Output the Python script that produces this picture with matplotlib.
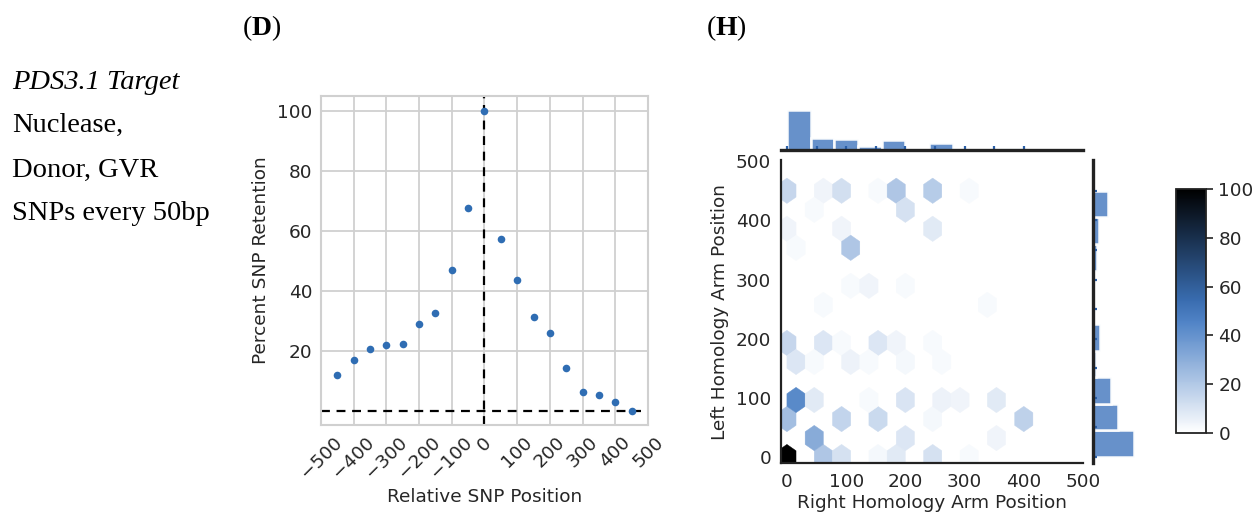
import numpy as np
import matplotlib
matplotlib.use("Agg")
import matplotlib.pyplot as plt
import colorsys
from matplotlib.colors import LinearSegmentedColormap, to_rgb

# ---------------- data ----------------
snp_pos = [-450, -400, -350, -300, -250, -200, -150, -100, -50, 0,
           50, 100, 150, 200, 250, 300, 350, 400, 450]
snp_ret = [12.2, 17.1, 20.9, 22.0, 22.5, 29.0, 32.7, 47.2, 67.7, 100.0,
           57.3, 43.8, 31.4, 26.1, 14.4, 6.6, 5.5, 3.3, 0.0]
x_ticks_d = [-500, -400, -300, -200, -100, 0, 100, 200, 300, 400, 500]
y_ticks_d = [20, 40, 60, 80, 100]

# hexbin cells: right arm position, left arm position, percent retention
hex_right = [0, 61.5, 92.3, 153.8, 184.6, 246.2, 307.7,
             46.2, 200,
             0, 92.3, 246.2,
             15.4, 107.7,
             107.7, 138.5, 200,
             61.5, 338.5,
             0, 61.5, 92.3, 153.8, 184.6, 246.2,
             15.4, 46.2, 107.7, 138.5, 200, 261.5,
             15.4, 46.2, 138.5, 200, 261.5, 292.3, 353.8,
             0, 92.3, 153.8, 246.2, 400,
             46.2, 200, 353.8,
             0, 61.5, 92.3, 153.8, 184.6, 246.2, 307.7]
hex_left = [450, 450, 450, 450, 450, 450, 450,
            417.9, 417.9,
            385.7, 385.7, 385.7,
            353.6, 353.6,
            289.3, 289.3, 289.3,
            257.1, 257.1,
            192.9, 192.9, 192.9, 192.9, 192.9, 192.9,
            160.7, 160.7, 160.7, 160.7, 160.7, 160.7,
            96.4, 96.4, 96.4, 96.4, 96.4, 96.4, 96.4,
            64.3, 64.3, 64.3, 64.3, 64.3,
            32.1, 32.1, 32.1,
            0, 0, 0, 0, 0, 0, 0]
hex_val = [15, 4, 12, 2, 21, 19, 2,
           2, 11,
           4, 4, 8,
           2, 21,
           2, 4, 2,
           2, 2,
           15, 9, 2, 9, 4, 2,
           9, 2, 5, 2, 3, 2,
           43, 8, 2, 10, 5, 4, 8,
           24, 16, 14, 3, 17,
           31, 9, 4,
           100, 21, 11, 3, 8, 11, 2]

# marginal histograms (relative heights)
top_bin_edges = [0, 40, 80, 120, 160, 200, 240, 280, 320, 360, 400]
top_heights = [12.0, 3.5, 3.2, 1.3, 3.1, 0.0, 2.0, 0.0, 0.3, 0.7]
right_bin_edges = [0, 45, 90, 135, 180, 225, 270, 315, 360, 405, 450]
right_heights = [12.2, 7.6, 5.3, 1.0, 2.2, 0.0, 0.0, 1.2, 1.7, 4.5]
rug_right_arm = [0, 50, 100, 150, 200, 250, 300, 350, 400]
rug_left_arm = [0, 50, 100, 150, 200, 250, 300, 350, 400, 450]
hex_ticks = [0, 100, 200, 300, 400, 500]
cbar_ticks = [0, 20, 40, 60, 80, 100]

# ---------------- figure ----------------
W, H = 1255, 512
fig = plt.figure(figsize=(W / 100, H / 100), dpi=100)
fig.patch.set_facecolor("white")

def px_axes(l, t, r, b):
    return fig.add_axes([l / W, 1 - b / H, (r - l) / W, (b - t) / H])

plt.rcParams["mathtext.fontset"] = "custom"
plt.rcParams["mathtext.bf"] = "Liberation Serif:bold"
plt.rcParams["mathtext.rm"] = "Liberation Serif"

text_dark = "#262626"
tick_fs = 13.3

# ---- left text ----
serif = "Liberation Serif"
tfs = 20.5
fig.text(12 / W, 1 - 89 / H, "PDS3.1 Target", family=serif, style="italic",
         fontsize=tfs, va="baseline", ha="left")
fig.text(12 / W, 1 - 132 / H, "Nuclease,", family=serif, fontsize=tfs, va="baseline")
fig.text(12 / W, 1 - 177 / H, "Donor, GVR", family=serif, fontsize=tfs, va="baseline")
fig.text(12 / W, 1 - 220 / H, "SNPs every 50bp", family=serif, fontsize=tfs, va="baseline")
fig.text(262 / W, 1 - 35 / H, r"($\mathbf{D}$)", family=serif, fontsize=20,
         va="baseline", ha="center")
fig.text(726 / W, 1 - 35 / H, r"($\mathbf{H}$)", family=serif, fontsize=20,
         va="baseline", ha="center")

# ---- panel D ----
grid_c = "#d0d0d0"
axd = px_axes(321, 96, 648, 425)
axd.set_facecolor("white")
axd.set_axisbelow(True)
axd.grid(True, color=grid_c, linewidth=1.3)
for s in axd.spines.values():
    s.set_color(grid_c)
    s.set_linewidth(1.5)
axd.scatter(snp_pos, snp_ret, s=30, color="#2f6db3", zorder=3, linewidths=0)
axd.axvline(0, color="black", linestyle="--", linewidth=1.6, dashes=(4, 3), zorder=2)
axd.axhline(0, color="black", linestyle="--", linewidth=1.6, dashes=(4, 3), zorder=2)
axd.set_xlim(-500, 500)
axd.set_ylim(-4.5, 105)
axd.set_xticks(x_ticks_d)
axd.set_yticks(y_ticks_d)
axd.tick_params(length=0, labelsize=tick_fs, labelcolor=text_dark, pad=6)
plt.setp(axd.get_xticklabels(), rotation=45)
axd.set_xlabel("Relative SNP Position", fontsize=tick_fs, color=text_dark, labelpad=4)
axd.set_ylabel("Percent SNP Retention", fontsize=tick_fs, color=text_dark, labelpad=5)

# ---- panel H ----
base = to_rgb("#3a6fb4")
h, l, s = colorsys.rgb_to_hls(*base)
cols = [colorsys.hls_to_rgb(h, li, s) for li in np.linspace(1, 0, 12)]
cmap = LinearSegmentedColormap.from_list("blend", cols)

axh = px_axes(781, 160, 1083, 463)
hb = axh.hexbin(hex_right, hex_left, C=hex_val, reduce_C_function=np.mean,
                gridsize=13, extent=(0, 400, 0, 450), cmap=cmap, vmin=0, vmax=100,
                linewidths=0.3, edgecolors="face")
axh.set_xlim(-10, 500)
axh.set_ylim(-10, 502)
axh.set_xticks(hex_ticks)
axh.set_yticks(hex_ticks)
for side in ("top", "right"):
    axh.spines[side].set_visible(False)
for side in ("left", "bottom"):
    axh.spines[side].set_color("#222222")
    axh.spines[side].set_linewidth(1.6)
axh.tick_params(length=0, labelsize=tick_fs, labelcolor=text_dark, pad=7)
axh.set_xlabel("Right Homology Arm Position", fontsize=tick_fs, color=text_dark, labelpad=2)
axh.set_ylabel("Left Homology Arm Position", fontsize=tick_fs, color=text_dark, labelpad=5)

bar_c = "#5f8bc7"
rug_c = "#2a5fa8"
# top marginal
axt = px_axes(781, 95, 1083, 150)
widths_t = np.diff(top_bin_edges)
axt.bar(top_bin_edges[:-1], top_heights, width=widths_t, align="edge",
        color=bar_c, edgecolor="white", linewidth=1.8, alpha=0.95)
axt.vlines(rug_right_arm, 0, 1.2, color=rug_c, linewidth=1.6)
axt.set_xlim(-10, 500)
axt.set_ylim(0, 16.5)
axt.axis("off")
axt.axhline(0, color="#222222", linewidth=2.4, clip_on=False)

# right marginal
axr = px_axes(1093, 160, 1147, 463)
widths_r = np.diff(right_bin_edges)
axr.barh(right_bin_edges[:-1], right_heights, height=widths_r, align="edge",
         color=bar_c, edgecolor="white", linewidth=1.8, alpha=0.95)
axr.hlines(rug_left_arm, 0, 1.2, color=rug_c, linewidth=1.6)
axr.set_ylim(-10, 502)
axr.set_xlim(0, 16.2)
axr.axis("off")
axr.axvline(0, color="#222222", linewidth=2.4, clip_on=False)

# colorbar
cax = px_axes(1176, 189, 1206, 433)
cb = fig.colorbar(hb, cax=cax, ticks=cbar_ticks)
cb.outline.set_edgecolor("#222222")
cb.outline.set_linewidth(1.3)
cax.tick_params(length=5, width=1.2, color="#222222", labelsize=tick_fs,
                labelcolor=text_dark, pad=4)

fig.savefig("out.png", dpi=100, facecolor="white")
